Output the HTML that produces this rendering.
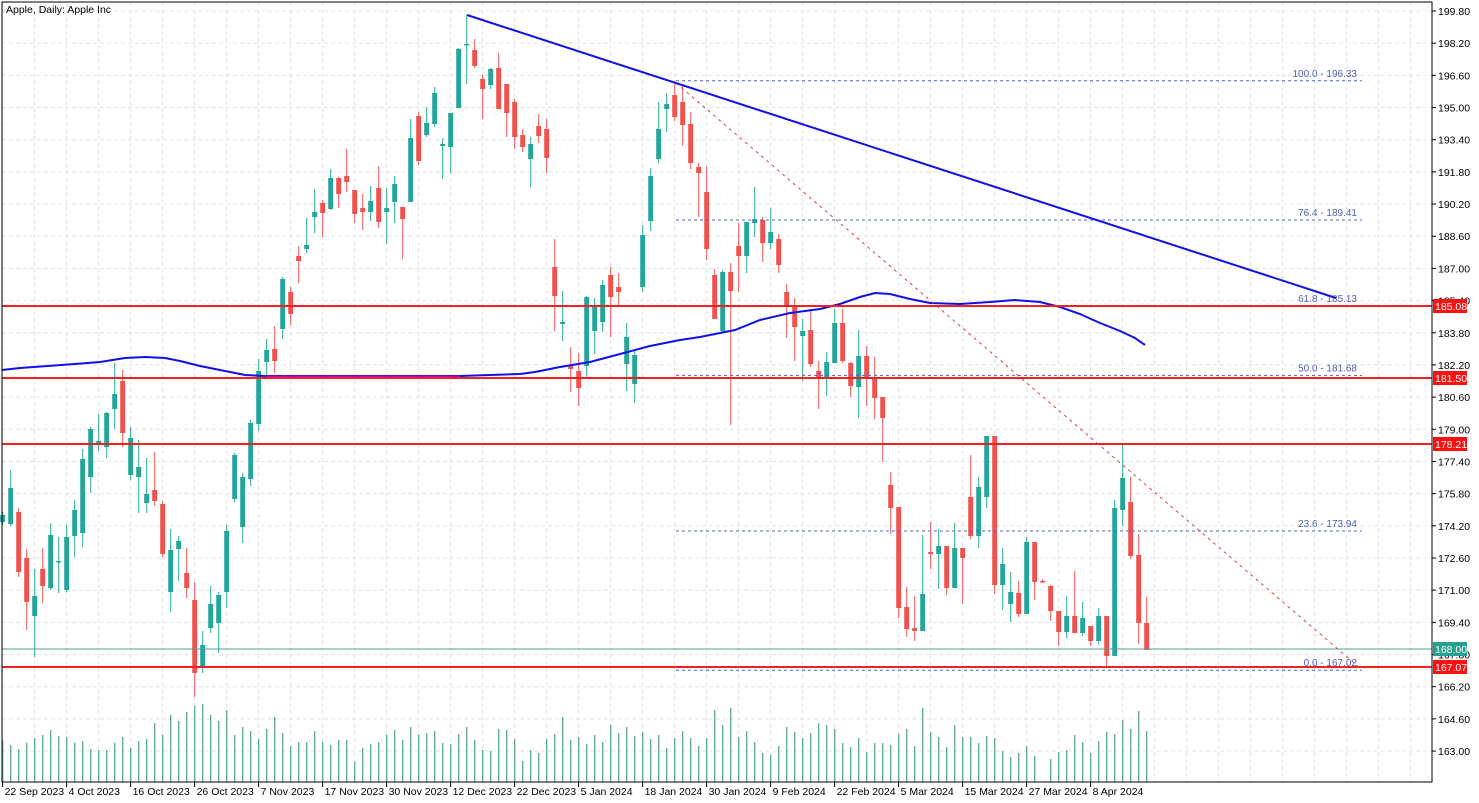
<!DOCTYPE html>
<html><head><meta charset="utf-8"><style>
html,body{margin:0;padding:0;background:#fff;}
svg{display:block;font-family:"Liberation Sans",sans-serif;}
</style></head><body>
<svg id="c" width="1479" height="803" xmlns="http://www.w3.org/2000/svg"></svg>
<script>
const S=document.getElementById('c');let h='';
function yp(p){return 11+(199.8-p)*20.11;}
// grid
for(let x=2.6;x<1432;x+=32){h+=`<line x1="${x.toFixed(1)}" y1="3" x2="${x.toFixed(1)}" y2="782" stroke="#e4e4e4" stroke-dasharray="4,3"/>`;}
const labs=["199.80","198.20","196.60","195.00","193.40","191.80","190.20","188.60","187.00","185.40","183.80","182.20","180.60","179.00","177.40","175.80","174.20","172.60","171.00","169.40","167.80","166.20","164.60","163.00"];
labs.forEach(l=>{const y=yp(+l);h+=`<line x1="2" y1="${y}" x2="1432" y2="${y}" stroke="#e4e4e4" stroke-dasharray="4,3"/>`;});
// volumes
const v1=[150,165,177,158,144,135,120,138,141,158,153,177,180,180,158,141,174,153,147,99,135,75,93,66,48,42,75,93,60,135,111,123,147,117,81,129,168,156,156,123,156,165,150,150,216,174,162,156,135,120,150,111,135,129,123,159,162,132,111,150,180,183,117,120,147,213,180,189,147,132,81,150,141,162,135,
156,105,129,111,138,126,147,135,174,144,123,144,168,144,60,105,54,141,123,156,189,195,168,111,126,144,129,99,105,117,159,171,144,186,159,159,165,132,117,168,54,126,141,171,105,141,141,159,138,144,183,201,189,168,198,null,207,186,180,135,156,189,153,126,132,90,117,63,123];
v1.forEach((z,i)=>{if(z==null)return;const x=2.7+8*i;const t=690+z/3;h+=`<line x1="${x}" y1="${t}" x2="${x}" y2="782" stroke="#5fa393" stroke-width="1.3"/>`;});
const C=[[522,515,512,525],[524,488,470,526],[512,572,508,577],[558,602,549,630],[616,596,569,657],[569,586,548,603],[588,535,523,590],[561,561,537,593],[590,537,525,592],[536,510,500,557],[533,459,449,547],[477,429,427,493],[444,441,414,451],[447,413,412,458],[409,394,363,429],[381,433,370,447],[475,438,427,480],[477,467,440,513],[503,494,458,513],[490,501,452,506],[504,554,501,557],[592,550,529,612],[549,541,536,581],[573,588,548,598],[600,673,582,697],[667,645,631,673],[628,604,586,633],[623,595,592,653],[592,531,525,608],[499,455,453,502],[527,477,473,543],[479,423,420,486],[424,371,359,431],[362,350,339,377],[349,361,326,373],[329,279,277,339],[292,314,287,325],[256,261,246,283],
[249,245,218,253],[217,212,189,233],[203,213,200,237],[209,178,169,210],[178,194,177,208],[176,182,149,192],[190,214,190,223],[208,212,194,230],[212,201,186,221],[188,222,166,228],[212,208,188,244],[202,184,176,223],[207,219,207,259],[202,138,119,202],[116,161,112,165],[135,123,107,137],[124,93,87,127],[146,144,138,179],[147,113,113,173],[108,49,48,108],[45,44,15,84],[50,66,39,68],[79,89,75,119],[85,69,68,89],[68,109,53,109],[84,113,84,137],[102,137,99,149],[135,147,129,152],[159,144,137,187],[126,136,114,143],[129,158,119,173],[267,296,239,331],[324,322,291,341],[366,369,347,392],[371,388,353,406],[366,297,296,377],[331,307,298,354],[322,285,280,332],[275,297,267,337],[287,292,273,305],[364,337,323,391],[384,355,350,403],[287,235,225,292],[221,176,168,231],[159,129,102,163],[109,104,93,132],[95,117,81,121],[102,125,84,146],[124,163,112,169],[167,173,163,217],[192,249,166,260],
[275,319,269,319],[331,272,270,333],[272,291,263,425],[246,256,223,292],[256,222,222,273],[223,219,187,237],[220,243,217,262],[243,232,208,249],[239,265,234,273],[292,306,284,338],[306,327,298,361],[336,331,319,381],[330,364,310,367],[371,377,361,409],[377,362,352,396],[363,323,309,363],[323,361,309,363],[363,386,362,397],[387,356,330,418],[356,379,346,406],[377,398,357,419],[397,418,397,462],[485,508,472,534],[507,608,507,618],[607,629,587,637],[628,631,596,641],[631,594,535,631],[552,554,522,569],[554,546,529,589],[546,588,546,595],[588,548,523,588],[548,558,548,604],[497,536,455,539],[536,487,477,548],[497,436,436,508],[436,585,436,594],[585,564,548,610],[604,592,572,622],[593,614,581,617],[614,542,537,614],[542,582,542,600],[581,581,579,583],[586,611,585,621],[611,632,611,646],[632,616,596,638],[616,633,571,633],[633,618,602,636],[626,641,626,646],[641,616,608,644],[616,656,616,668],[656,508,500,656],[510,478,443,526],[502,556,477,559],[555,623,534,644],[623,650,597,650]];
C.forEach((c,i)=>{const x=2.7+8*i;const[o,cl,hi,lo]=c;const g=cl<o||(cl==o&&i%2==1);const col=g?'#26a69a':'#ef5350';
h+=`<line x1="${x}" y1="${hi}" x2="${x}" y2="${lo}" stroke="${col}" stroke-width="1"/>`;
const t=Math.min(o,cl),b=Math.max(o,cl);h+=`<rect x="${x-2.5}" y="${t}" width="5" height="${Math.max(b-t,1.5)}" fill="${col}"/>`;});
const ma=[[2,370],[20,368],[75,364],[100,362],[125,358],[145,357],[165,358],[180,361],[200,366],[225,371],[245,375],[265,376],[460,376],[490,375],[520,374],[535,372],[560,367],[590,362],[620,354],[650,346],[680,340],[700,337],[720,333],[735,330],[760,320],[790,313],[820,309],[840,304],[860,297],[875,293],[890,294],[910,299],[930,303],[960,304],[990,302],[1015,300],[1040,302],[1060,307],[1080,314],[1100,323],[1120,331],[1135,338],[1145,345]];
h+=`<polyline points="${ma.map(p=>p.join(',')).join(' ')}" fill="none" stroke="#1010e8" stroke-width="2"/>`;
h+=`<line x1="265" y1="376.5" x2="460" y2="376.5" stroke="#c000c0" stroke-width="2"/>`;
const fib=[["100.0 - 196.33",196.33],["76.4 - 189.41",189.41],["61.8 - 185.13",185.13],["50.0 - 181.68",181.68],["23.6 - 173.94",173.94],["0.0 - 167.02",167.02]];
fib.forEach(f=>{const y=yp(f[1]);h+=`<line x1="676" y1="${y}" x2="1362" y2="${y}" stroke="#5060d0" stroke-dasharray="3,3"/>`;h+=`<text x="1357" y="${y-4}" font-size="10" fill="#5060c0" text-anchor="end">${f[0]}</text>`;});
[[185.08,306],[181.5,378],[178.21,444],[167.07,667]].forEach(l=>{h+=`<line x1="2" y1="${l[1]}" x2="1432" y2="${l[1]}" stroke="#ee2222" stroke-width="2"/>`;});
h+=`<line x1="2" y1="649" x2="1432" y2="649" stroke="#4fa090" stroke-width="1"/>`;
h+=`<line x1="676" y1="83" x2="1360" y2="668" stroke="#e04040" stroke-dasharray="3,4"/>`;
h+=`<line x1="467" y1="15" x2="1336" y2="298" stroke="#1010e8" stroke-width="2"/>`;
h+=`<rect x="2" y="2" width="1430" height="780" fill="none" stroke="#000" stroke-width="1"/>`;
h+=`<rect x="1433" y="0" width="46" height="803" fill="#fff"/><rect x="0" y="783" width="1479" height="20" fill="#fff"/>`;
h+=`<line x1="1432" y1="2" x2="1432" y2="782" stroke="#000"/><line x1="2" y1="782" x2="1432" y2="782" stroke="#000"/>`;
labs.forEach(l=>{const y=yp(+l);h+=`<line x1="1432" y1="${y}" x2="1436" y2="${y}" stroke="#000"/><text x="1438" y="${y+4}" font-size="10.5" fill="#000">${l}</text>`;});
[["185.08",306,"#ff1010"],["181.50",378,"#ff1010"],["178.21",444,"#ff1010"],["168.00",649,"#26a08f"],["167.07",667,"#ff1010"]].forEach(b=>{h+=`<rect x="1433" y="${b[1]-7}" width="34" height="14" fill="${b[2]}"/><text x="1435" y="${b[1]+4}" font-size="10.5" fill="#fff">${b[0]}</text>`;});
const dates=["22 Sep 2023","4 Oct 2023","16 Oct 2023","26 Oct 2023","7 Nov 2023","17 Nov 2023","30 Nov 2023","12 Dec 2023","22 Dec 2023","5 Jan 2024","18 Jan 2024","30 Jan 2024","9 Feb 2024","22 Feb 2024","5 Mar 2024","15 Mar 2024","27 Mar 2024","8 Apr 2024"];
dates.forEach((d,k)=>{const x=2.6+64*k;h+=`<line x1="${x}" y1="782" x2="${x}" y2="787" stroke="#000"/><text x="${x+2}" y="795" font-size="10.5" fill="#000">${d}</text>`;});
h+=`<text x="6" y="13" font-size="10.5" fill="#000">Apple, Daily:  Apple Inc</text>`;
S.innerHTML=h;
</script>
</body></html>
